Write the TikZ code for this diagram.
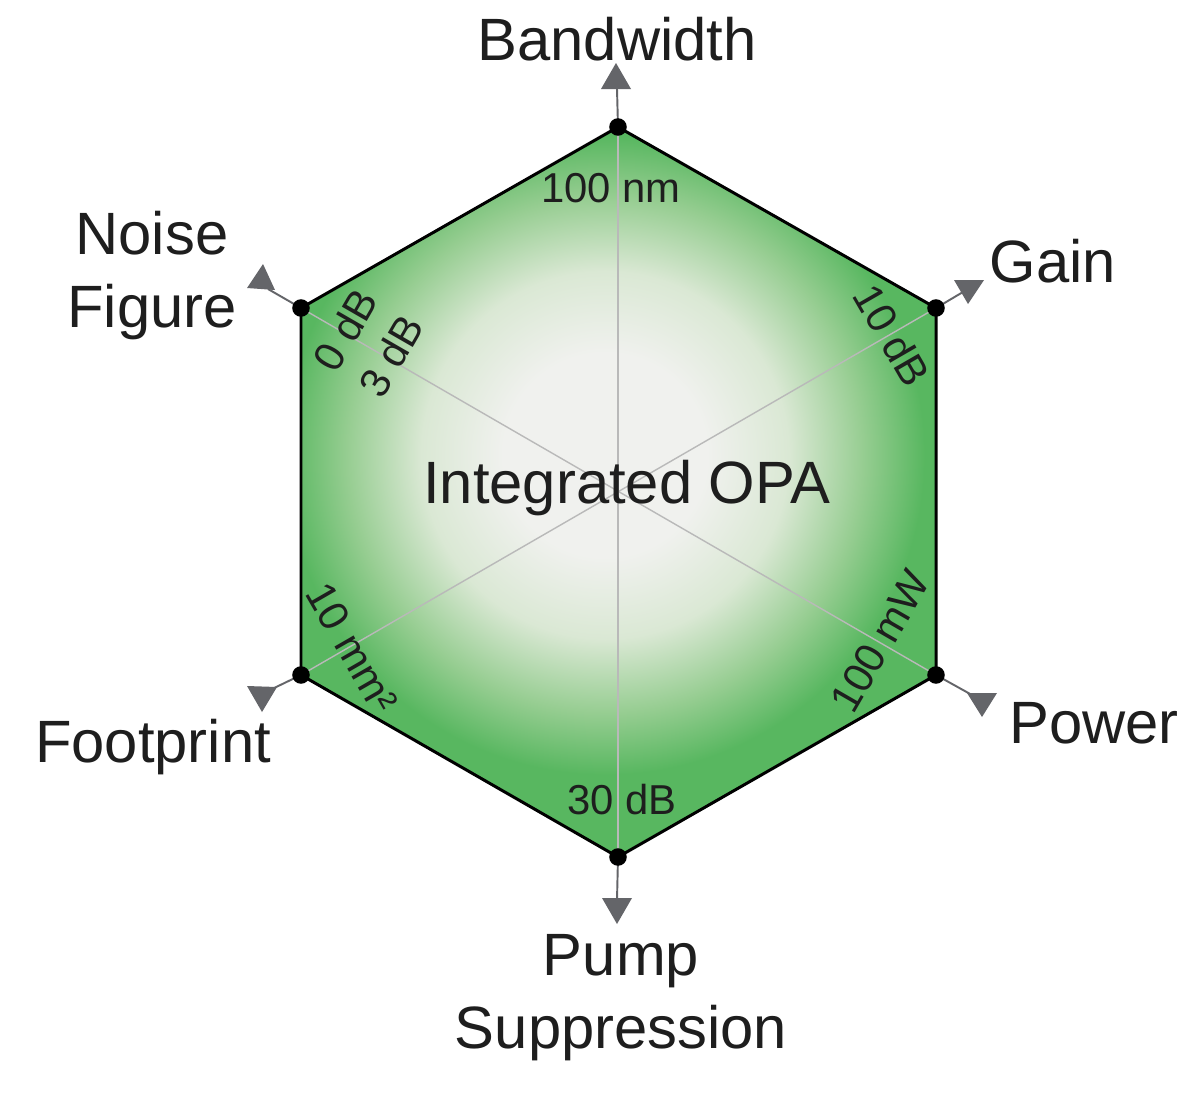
\documentclass[tikz,border=0pt]{standalone}
\usepackage{fontspec}
\setmainfont{Liberation Sans}
\definecolor{hexgreen}{RGB}{88,183,96}
\definecolor{hexmid}{RGB}{150,205,145}
\definecolor{hexlight}{RGB}{218,232,212}
\definecolor{hexcore}{RGB}{240,241,238}
\definecolor{spokegrey}{RGB}{185,185,185}
\definecolor{arrgrey}{RGB}{100,101,105}
\definecolor{txt}{RGB}{30,30,30}
\pgfdeclareradialshading{opashade}{\pgfpointorigin}{color(0bp)=(hexcore); color(7.5bp)=(hexcore); color(13.5bp)=(hexlight); color(19bp)=(hexmid); color(23.5bp)=(hexgreen); color(50bp)=(hexgreen)}
\begin{document}
\begin{tikzpicture}[x=0.02cm,y=-0.02cm,
  dot/.style={circle,fill=black,minimum size=10pt,inner sep=0pt},
  spoke/.style={draw=spokegrey,line width=0.8pt},
  border/.style={draw=black,line width=1.7pt,line join=miter},
  armline/.style={draw=arrgrey,line width=1.1pt},
  tip/.style={fill=arrgrey},
  biglabel/.style={text=txt,inner sep=0pt,font=\fontsize{34}{41}\selectfont},
  smalllabel/.style={text=txt,inner sep=0pt,font=\fontsize{23.8}{30}\selectfont}]
\useasboundingbox (0,0) rectangle (1200,1092);
\fill[white] (0,0) rectangle (1200,1092);
% vertices
\coordinate (pB) at (618,127);
\coordinate (pG) at (936,308);
\coordinate (pP) at (936,675);
\coordinate (pS) at (618,857);
\coordinate (pF) at (301,675);
\coordinate (pN) at (301,308);
% fill
\begin{scope}
  \clip (pB) -- (pG) -- (pP) -- (pS) -- (pF) -- (pN) -- cycle;
  \fill[hexgreen] (0,0) rectangle (1200,1092);
  \shade[shading=opashade] (605,455) circle [radius=340];
\end{scope}
% spokes
\draw[spoke] (pB) -- (pS);
\draw[spoke] (pN) -- (pP);
\draw[spoke] (pG) -- (pF);
% border
\draw[border] (pB) -- (pG) -- (pP) -- (pS) -- (pF) -- (pN) -- cycle;
% arrow end coordinates
\coordinate (aB) at (617,89);
\coordinate (aG) at (963,292);
\coordinate (aP) at (972,695);
\coordinate (aS) at (617,900);
\coordinate (aF) at (270,690);
\coordinate (aN) at (268,289);
\draw[armline] (pB) -- (aB);
\draw[armline] (pG) -- (aG);
\draw[armline] (pP) -- (aP);
\draw[armline] (pS) -- (aS);
\draw[armline] (pF) -- (aF);
\draw[armline] (pN) -- (aN);
% triangles
\fill[tip] (601,89) -- (631,89) -- (616,63) -- cycle;
\fill[tip] (954,280) -- (984,280) -- (968,304) -- cycle;
\fill[tip] (967,693) -- (997,693) -- (982,717) -- cycle;
\fill[tip] (602,898) -- (632,898) -- (617,924) -- cycle;
\fill[tip] (247,686) -- (277,687) -- (262,712) -- cycle;
\fill[tip] (247,288) -- (263,264) -- (275,290) -- cycle;
% dots
\node[dot] (vB) at (pB) {};
\node[dot] (vG) at (pG) {};
\node[dot] (vP) at (pP) {};
\node[dot] (vS) at (pS) {};
\node[dot] (vF) at (pF) {};
\node[dot] (vN) at (pN) {};
% axis labels
\node[biglabel,anchor=base] (lB) at (617,60) {Bandwidth};
\node[biglabel,anchor=base] (lG) at (1053,282) {Gain};
\node[biglabel,anchor=base] (lP) at (1094,743) {Power};
\node[biglabel,anchor=base] (lF) at (153,762) {Footprint};
\node[biglabel,anchor=base,align=center] (lN) at (152,327) {Noise\\Figure};
\node[biglabel,anchor=base,align=center] (lS) at (621,1048) {Pump\\Suppression};
\node[biglabel,anchor=base] (title) at (627,503) {Integrated OPA};
% scale labels
\node[smalllabel] (sB) at (611,188) {100 nm};
\node[smalllabel] (sS) at (622,800) {30 dB};
\node[smalllabel,rotate=-60] (sG) at (892,335) {10 dB};
\node[smalllabel,rotate=60] (sP) at (880,641) {100 mW};
\node[smalllabel,rotate=-60] (sF) at (352,648) {10 mm²};
\node[smalllabel,rotate=60,align=center] (sN) at (368,343) {0 dB\\3 dB};
\end{tikzpicture}
\end{document}
